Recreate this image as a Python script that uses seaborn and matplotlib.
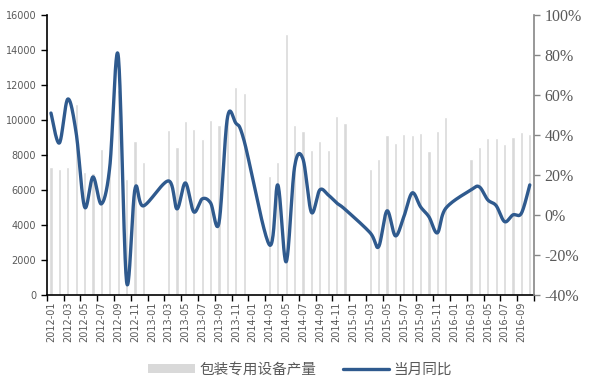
import numpy as np
import pandas as pd
import matplotlib
matplotlib.use("Agg")
import matplotlib.pyplot as plt
import seaborn as sns
from matplotlib.patches import Patch
from matplotlib.lines import Line2D

# monthly categories 2012-01 .. 2016-10
months = list(pd.period_range("2012-01", "2016-10", freq="M").strftime("%Y-%m"))

# 包装专用设备产量 (units), NaN = month not reported
output = [7330, 7180, 7310, 10900, 7010, 6950, 8370, 7900, 11720, 6630, 8790, 7600,
          np.nan, np.nan, 9430, 8480, 9950, 9490, 8920, 10010, 9720, 10100, 11880, 11540,
          np.nan, np.nan, 6800, 7600, 14910, 9720, 9380, 8290, 8800, 8290, 10240, 9820,
          np.nan, np.nan, 7220, 7760, 9150, 8710, 9200, 9130, 9260, 8230, 9380, 10160,
          np.nan, np.nan, 7770, 8460, 8980, 8990, 8630, 9050, 9320, 9200]

# 当月同比 (%)
yoy = [51, 36, 58, 41, 4, 19, 5.5, 24, 80, -33.5, 13, 4.5,
       np.nan, np.nan, 17, 3, 16, 1.5, 8, 6, -4, 48.5, 46, 37,
       np.nan, np.nan, -15, 15, -23.5, 24, 28, 1.3, 12.5, 10, 6, 2.8,
       np.nan, np.nan, -9, -16, 2, -10.5, -1, 11, 4, -1, -9, 3.3,
       np.nan, np.nan, 12.5, 14, 7.5, 4.6, -3.4, 0, 0.8, 15]

BAR_C = "#d9d9d9"
LINE_C = "#2f5a8e"
TXT_C = "#595959"

sns.set_style("ticks")
plt.rcParams["font.family"] = ["Noto Sans CJK SC", "DejaVu Sans"]

df = pd.DataFrame({"month": months, "output": output, "yoy": yoy})
df["pos"] = np.arange(len(df))


def smooth(x, y, n=24):
    # catmull-rom through the points (what excel calls a smoothed line)
    px = np.r_[x[0], x, x[-1]]
    py = np.r_[y[0], y, y[-1]]
    t = np.linspace(0, 1, n, endpoint=False)[:, None]
    xs, ys = [], []
    for k in range(1, len(px) - 2):
        for src, dst in ((px, xs), (py, ys)):
            p0, p1, p2, p3 = src[k - 1], src[k], src[k + 1], src[k + 2]
            v = 0.5 * (2 * p1 + (-p0 + p2) * t + (2 * p0 - 5 * p1 + 4 * p2 - p3) * t ** 2
                       + (-p0 + 3 * p1 - 3 * p2 + p3) * t ** 3)
            dst.extend(v.ravel())
    xs.append(x[-1])
    ys.append(y[-1])
    return np.array(xs), np.array(ys)


fig = plt.figure(figsize=(5.92, 3.81), dpi=100)
ax = fig.add_axes([0.079, 0.2265, 0.823, 0.7335])

sns.barplot(data=df.dropna(subset=["output"]), x="month", y="output", order=months,
            color=BAR_C, saturation=1, width=0.38, errorbar=None, ax=ax)
ax.set_xlim(-0.5, len(months) - 0.5)
ax.set_ylim(0, 16000)
ax.set_yticks(np.arange(0, 16001, 2000))
ax.set_xlabel("")
ax.set_ylabel("")

# labels every second month, tick marks on the category borders
ax.set_xticks(np.arange(0, len(months), 2))
ax.set_xticklabels(months[::2], rotation=90, fontsize=7, color=TXT_C, family="DejaVu Sans")
ax.set_xticks(np.arange(-0.5, len(months), 2), minor=True)
ax.tick_params(axis="x", which="major", length=0, pad=5)
ax.tick_params(axis="x", which="minor", length=4, width=1, color="black", direction="out")
ax.tick_params(axis="y", length=4, width=1, color="black", labelsize=7, labelcolor=TXT_C)
for lab in ax.get_yticklabels():
    lab.set_family("DejaVu Sans")
for s in ("left", "bottom"):
    ax.spines[s].set_color("black")
    ax.spines[s].set_linewidth(1.2)
ax.spines["top"].set_visible(False)
ax.spines["right"].set_visible(False)

ax2 = ax.twinx()
ln = df.dropna(subset=["yoy"])
sx, sy = smooth(ln["pos"].to_numpy(float), ln["yoy"].to_numpy(float))
sns.lineplot(x=sx, y=sy, sort=False, color=LINE_C, linewidth=2.4, ax=ax2)
ax2.set_ylim(-40, 100)
ax2.set_yticks(np.arange(-40, 101, 20))
ax2.set_yticklabels([f"{v}%" for v in range(-40, 101, 20)], family="Liberation Serif",
                    fontsize=11.5, color=TXT_C)
ax2.tick_params(axis="y", length=4, width=1, color="#868686")
ax2.spines["right"].set_color("#868686")
ax2.spines["right"].set_linewidth(1.2)
for s in ("top", "left", "bottom"):
    ax2.spines[s].set_visible(False)

handles = [Patch(facecolor=BAR_C, edgecolor="none"),
           Line2D([0], [0], color=LINE_C, linewidth=2.4)]
fig.legend(handles, ["包装专用设备产量", "当月同比"], loc="center", bbox_to_anchor=(0.507, 0.03),
           ncol=2, frameon=False, fontsize=10.5, labelcolor=TXT_C, handlelength=3.2,
           handleheight=0.5, columnspacing=1.8, handletextpad=0.3)

fig.savefig("out.png", dpi=100)
